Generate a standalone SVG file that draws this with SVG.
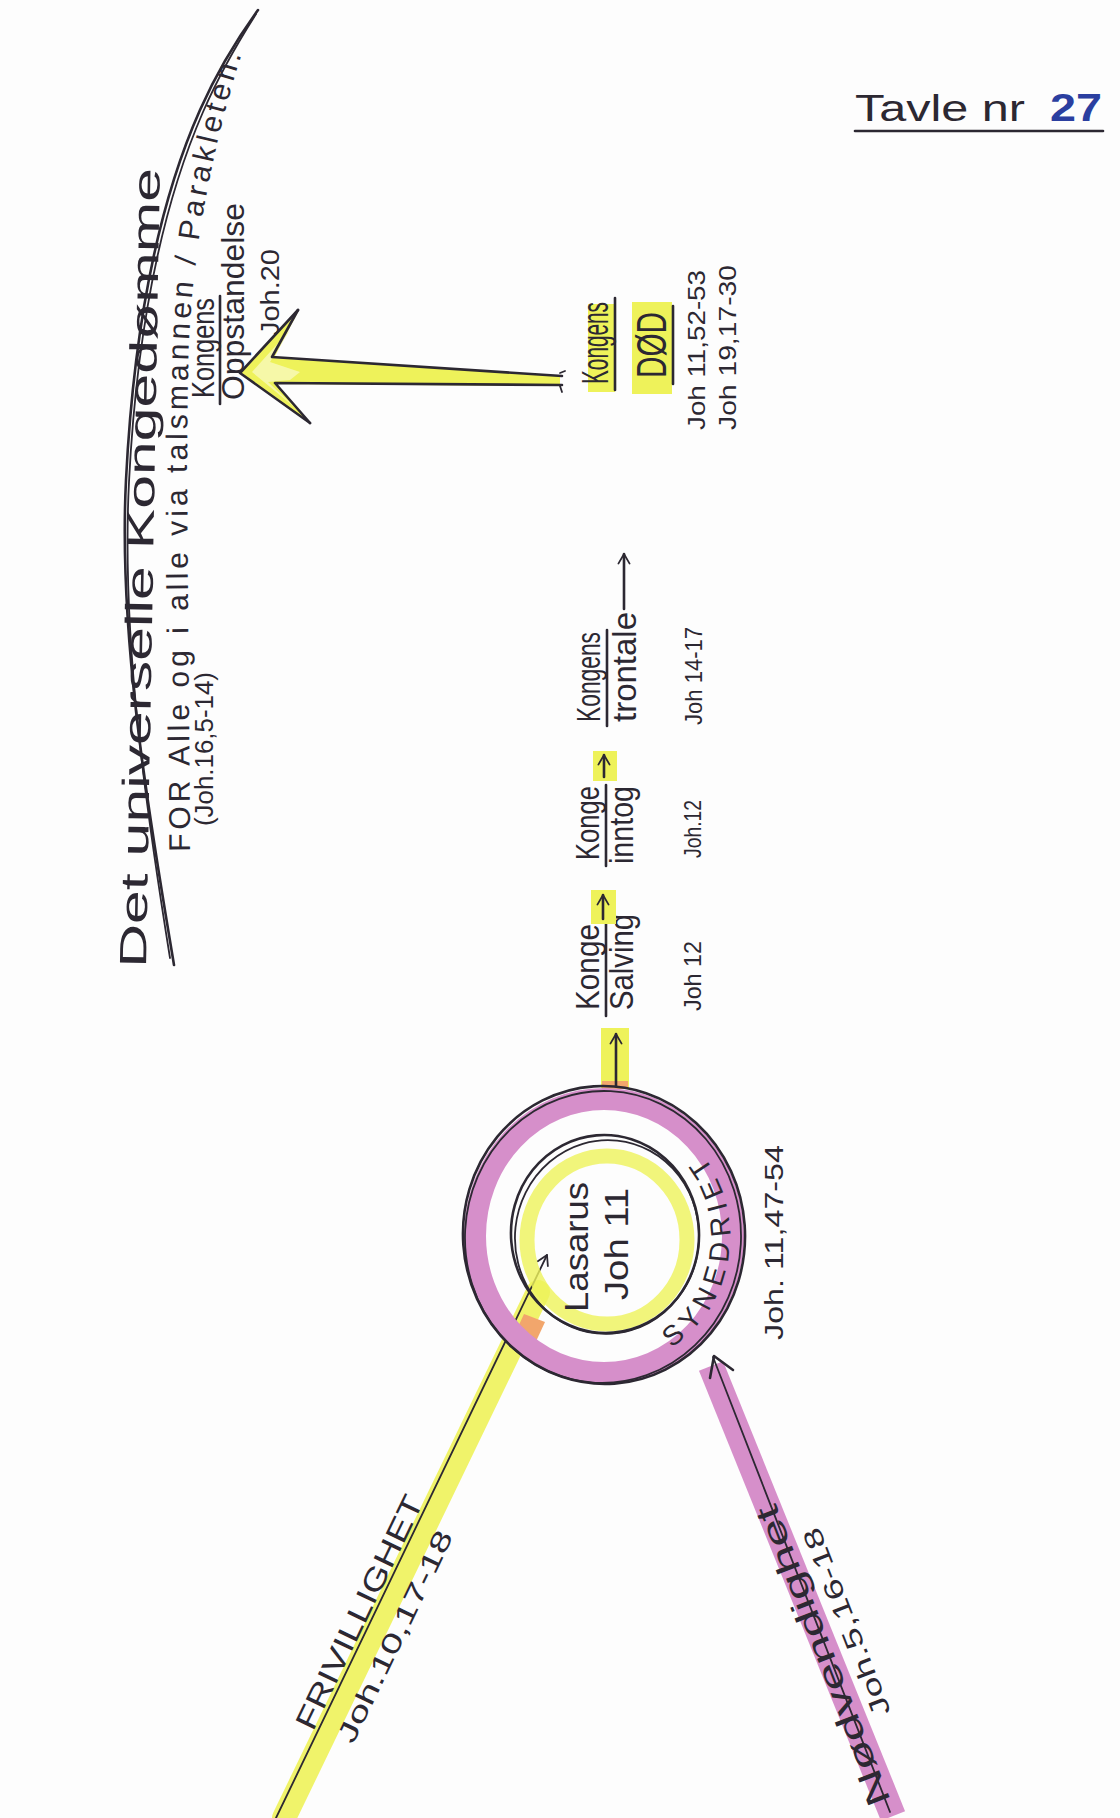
<svg xmlns="http://www.w3.org/2000/svg" width="1120" height="1818" viewBox="0 0 1120 1818">
<defs>
<style>
.ink{fill:none;stroke:#2c2832;stroke-width:2.6;stroke-linecap:round;stroke-linejoin:round}
.thin{fill:none;stroke:#2c2832;stroke-width:1.8;stroke-linecap:round;stroke-linejoin:round}
.hl{fill:#eef25a}
.ylw{fill:none;stroke:#eef25a;stroke-linecap:round}
.pnk{fill:none;stroke:#d68fca}
text{font-family:"Liberation Sans","DejaVu Sans",sans-serif;fill:#2c2832}
.big{font-size:34px}
.ref{font-size:24px}
</style>
<marker id="ah" viewBox="0 0 20 20" refX="17" refY="10" markerWidth="16" markerHeight="16" orient="auto" markerUnits="userSpaceOnUse">
<path d="M5,3 L17,10 L5,17" fill="none" stroke="#2c2832" stroke-width="2.2" stroke-linecap="round" stroke-linejoin="round"/>
</marker>
<path id="p2" d="M190,852 C189,620 185,460 189,340 C195,220 222,110 252,22"/>
<path id="synp" d="M663,1353 A126,132 0 0 0 688,1138"/>
</defs>
<rect width="1120" height="1818" fill="#fdfdfd"/>

<g id="title">
<text x="855" y="121" font-size="36" textLength="170" lengthAdjust="spacingAndGlyphs">Tavle nr</text>
<text x="1050" y="121" font-size="38" font-weight="bold" style="fill:#2b3fa0" textLength="52" lengthAdjust="spacingAndGlyphs">27</text>
<line class="ink" x1="855" y1="131" x2="1103" y2="131" stroke-width="3"/>
</g>

<g id="kingdom">
<path class="ink" d="M174,965 C150,820 118,640 126,480 C134,320 160,200 200,110 C220,65 240,35 258,10"/>
<path class="thin" d="M170,958 C147,815 121,640 129,482 C137,322 163,204 203,112 C222,68 242,36 256,14"/>
<text transform="translate(146,968) rotate(-89)" font-size="38" textLength="800" lengthAdjust="spacingAndGlyphs">Det universelle Kongedømme</text>
<text font-size="30" letter-spacing="4"><textPath href="#p2">FOR Alle og i alle via talsmannen / Parakleten.</textPath></text>
<text transform="translate(213,826) rotate(-90)" font-size="26" textLength="154" lengthAdjust="spacingAndGlyphs">(Joh.16,5-14)</text>
</g>

<g id="oppstandelse">
<text transform="translate(214,398) rotate(-90)" font-size="32" textLength="100" lengthAdjust="spacingAndGlyphs">Kongens</text>
<line class="ink" x1="220" y1="404" x2="220" y2="296"/>
<text transform="translate(244,400) rotate(-90)" font-size="32" textLength="197" lengthAdjust="spacingAndGlyphs">Oppstandelse</text>
<text transform="translate(279,336) rotate(-90)" font-size="26" textLength="87" lengthAdjust="spacingAndGlyphs">Joh.20</text>
</g>

<g id="salving">
<text transform="translate(599,1010) rotate(-90)" class="big" textLength="86" lengthAdjust="spacingAndGlyphs">Konge</text>
<line class="ink" x1="606" y1="1016" x2="606" y2="920"/>
<text transform="translate(633,1010) rotate(-90)" class="big" textLength="96" lengthAdjust="spacingAndGlyphs">Salving</text>
<text transform="translate(701,1011) rotate(-90)" class="ref" textLength="70" lengthAdjust="spacingAndGlyphs">Joh 12</text>
</g>

<g id="inntog">
<text transform="translate(599,860) rotate(-90)" class="big" textLength="74" lengthAdjust="spacingAndGlyphs">Konge</text>
<line class="ink" x1="606" y1="866" x2="606" y2="785"/>
<text transform="translate(633,864) rotate(-90)" class="big" textLength="78" lengthAdjust="spacingAndGlyphs">inntog</text>
<text transform="translate(701,858) rotate(-90)" class="ref" textLength="58" lengthAdjust="spacingAndGlyphs">Joh.12</text>
</g>

<g id="trontale">
<text transform="translate(600,722) rotate(-90)" class="big" textLength="90" lengthAdjust="spacingAndGlyphs">Kongens</text>
<line class="ink" x1="607" y1="726" x2="607" y2="630"/>
<text transform="translate(636,722) rotate(-90)" class="big" textLength="110" lengthAdjust="spacingAndGlyphs">trontale</text>
<text transform="translate(702,725) rotate(-90)" class="ref" textLength="98" lengthAdjust="spacingAndGlyphs">Joh 14-17</text>
</g>

<g id="dod">
<rect class="hl" x="588" y="304" width="27" height="88"/>
<rect class="hl" x="632" y="302" width="40" height="92"/>
<text transform="translate(608,384) rotate(-90)" font-size="36" textLength="82" lengthAdjust="spacingAndGlyphs">Kongens</text>
<line class="ink" x1="615" y1="390" x2="615" y2="298"/>
<text transform="translate(666,378) rotate(-90)" font-size="42" textLength="66" lengthAdjust="spacingAndGlyphs">DØD</text>
<line class="ink" x1="673" y1="384" x2="673" y2="306"/>
<text transform="translate(705,430) rotate(-90)" class="ref" textLength="160" lengthAdjust="spacingAndGlyphs">Joh 11,52-53</text>
<text transform="translate(736,430) rotate(-90)" class="ref" textLength="165" lengthAdjust="spacingAndGlyphs">Joh 19,17-30</text>
</g>

<g id="connectors">
<path class="ylw" d="M284,1818 L538,1292" stroke-width="24" opacity="0.9"/>
<path d="M512,1340 L524,1314 L545,1322 L532,1350 Z" fill="#f2a66c"/>
<line class="thin" x1="276" y1="1818" x2="547" y2="1255" marker-end="url(#ah)"/>
<path class="pnk" d="M711,1366 L893,1816" stroke-width="26"/>
<line class="thin" x1="713" y1="1357" x2="890" y2="1812"/>
<path class="ink" d="M710,1378 L714,1356 L733,1370"/>
<rect class="hl" x="601" y="1028" width="28" height="60"/>
<rect x="602" y="1081" width="26" height="8" fill="#f2a66c"/>
<line class="ink" x1="616" y1="1086" x2="616" y2="1034" marker-end="url(#ah)"/>
<rect class="hl" x="591" y="890" width="25" height="34"/>
<line class="ink" x1="603" y1="919" x2="603" y2="895" marker-end="url(#ah)"/>
<rect class="hl" x="593" y="751" width="24" height="30"/>
<line class="ink" x1="604" y1="777" x2="604" y2="755" marker-end="url(#ah)"/>
<line class="ink" x1="624" y1="609" x2="624" y2="554" marker-end="url(#ah)"/>
<path d="M240,373 L298,312 L274,358 L560,376 L560,386 L276,384 L310,423 Z" fill="#eef25a"/>
<path d="M252,372 L290,330 L270,362 L300,372 L290,380 L268,382 L298,410 Z" fill="#f6f8a8"/>
<path class="ink" d="M298,310 L240,373 L310,423"/>
<path class="ink" d="M298,310 L272,357 L562,376"/>
<path class="ink" d="M310,423 L275,383 L562,385"/>
<path class="thin" d="M560,373 L565,371 M560,386 L562,392"/>
</g>

<g id="circle">
<ellipse class="pnk" cx="604" cy="1236" rx="129" ry="137" stroke-width="22"/>
<ellipse class="ink" cx="604" cy="1235" rx="141" ry="149" transform="rotate(-4 604 1235)"/>
<ellipse class="thin" cx="603" cy="1237" rx="138" ry="146" transform="rotate(3 603 1237)"/>
<ellipse class="ylw" cx="607" cy="1240" rx="80" ry="84" stroke-width="15" opacity="0.8"/>
<ellipse class="ink" cx="605" cy="1234" rx="94" ry="99" transform="rotate(-5 605 1234)"/>
<ellipse class="thin" cx="607" cy="1237" rx="92" ry="97" transform="rotate(6 607 1237)"/>
<text transform="translate(588,1312) rotate(-90)" font-size="34" textLength="130" lengthAdjust="spacingAndGlyphs">Lasarus</text>
<text transform="translate(628,1300) rotate(-90)" font-size="34" textLength="112" lengthAdjust="spacingAndGlyphs">Joh 11</text>
<text font-size="28" letter-spacing="7"><textPath href="#synp" startOffset="10">SYNEDRIET</textPath></text>
<text transform="translate(783,1340) rotate(-90)" font-size="26" textLength="195" lengthAdjust="spacingAndGlyphs">Joh. 11,47-54</text>
</g>

<g id="frivillighet">
<text transform="translate(313,1732) rotate(-64.3)" font-size="30" textLength="256" lengthAdjust="spacingAndGlyphs">FRIVILLIGHET</text>
<text transform="translate(353,1745) rotate(-64.3)" font-size="27" textLength="232" lengthAdjust="spacingAndGlyphs">Joh.10,17-18</text>
</g>

<g id="nodvendighet">
<text transform="translate(891,1801) rotate(-111.2)" font-size="33" textLength="320" lengthAdjust="spacingAndGlyphs">Nødvendighet</text>
<text transform="translate(891,1712) rotate(-111.2)" font-size="26" textLength="200" lengthAdjust="spacingAndGlyphs">Joh.5,16-18</text>
</g>
</svg>
